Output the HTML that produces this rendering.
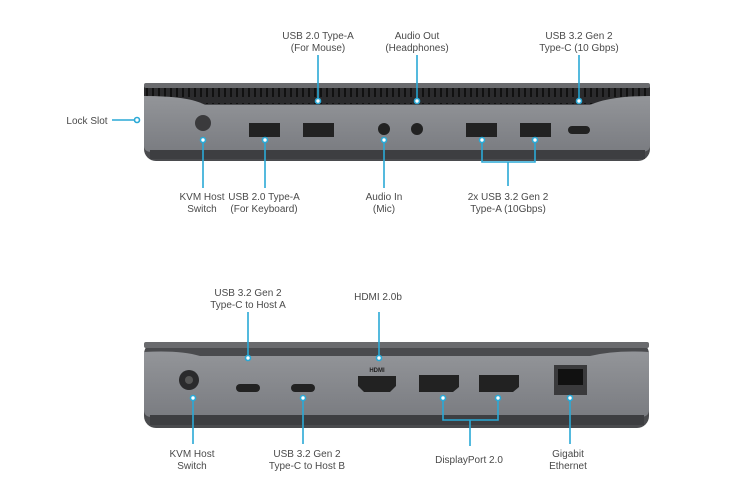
<!DOCTYPE html>
<html><head><meta charset="utf-8"><style>
html,body{margin:0;padding:0;background:#fff;}
svg{display:block;}
text{font-family:"Liberation Sans",sans-serif;font-size:10px;fill:#4a4a4a;text-anchor:middle;}
.c{stroke:#2aa9d6;stroke-width:1.6;fill:none;}
.d{fill:#fff;stroke:#2aa9d6;stroke-width:1.6;}
</style></head><body>
<svg width="750" height="500" viewBox="0 0 750 500">
<defs>
<pattern id="g" width="6" height="20" patternUnits="userSpaceOnUse"><rect width="6" height="20" fill="#2b2b2d"/><rect x="2" y="3" width="2" height="14" fill="#111"/></pattern>
<linearGradient id="f" x1="0" y1="0" x2="0" y2="1"><stop offset="0" stop-color="#939599"/><stop offset="1" stop-color="#7a7c81"/></linearGradient>
</defs>
<!-- TOP DEVICE -->
<rect x="144" y="83" width="506" height="78" rx="12" fill="#4a4b4e"/>
<rect x="144" y="86" width="506" height="18" fill="url(#g)"/>
<rect x="144" y="83" width="506" height="5" rx="2" fill="#6a6b6e"/>
<path d="M144 96 Q190 96 205 105 L590 105 Q610 96 650 96 L650 146 Q650 152 640 152 L152 152 Q144 152 144 146 Z" fill="url(#f)"/>
<rect x="150" y="150" width="495" height="9" fill="#3d3e41"/>
<circle cx="203" cy="123" r="8" fill="#3a3a3c"/>
<rect x="249" y="123" width="31" height="14" fill="#222"/>
<rect x="303" y="123" width="31" height="14" fill="#222"/>
<circle cx="384" cy="129" r="6" fill="#222"/>
<circle cx="417" cy="129" r="6" fill="#222"/>
<rect x="466" y="123" width="31" height="14" fill="#222"/>
<rect x="520" y="123" width="31" height="14" fill="#222"/>
<rect x="568" y="126" width="22" height="8" rx="4" fill="#222"/>
<!-- top callouts -->
<text x="318" y="39">USB 2.0 Type-A</text><text x="318" y="51">(For Mouse)</text>
<line class="c" x1="318" y1="55" x2="318" y2="99"/><circle class="d" cx="318" cy="101" r="2.5"/>
<text x="417" y="39">Audio Out</text><text x="417" y="51">(Headphones)</text>
<line class="c" x1="417" y1="55" x2="417" y2="99"/><circle class="d" cx="417" cy="101" r="2.5"/>
<text x="579" y="39">USB 3.2 Gen 2</text><text x="579" y="51">Type-C (10 Gbps)</text>
<line class="c" x1="579" y1="55" x2="579" y2="99"/><circle class="d" cx="579" cy="101" r="2.5"/>
<text x="87" y="124">Lock Slot</text>
<line class="c" x1="112" y1="120" x2="134" y2="120"/><circle class="d" cx="137" cy="120" r="2.5"/>
<circle class="d" cx="203" cy="140" r="2.5"/><line class="c" x1="203" y1="143" x2="203" y2="188"/>
<text x="202" y="200">KVM Host</text><text x="202" y="212">Switch</text>
<circle class="d" cx="265" cy="140" r="2.5"/><line class="c" x1="265" y1="143" x2="265" y2="188"/>
<text x="264" y="200">USB 2.0 Type-A</text><text x="264" y="212">(For Keyboard)</text>
<circle class="d" cx="384" cy="140" r="2.5"/><line class="c" x1="384" y1="143" x2="384" y2="188"/>
<text x="384" y="200">Audio In</text><text x="384" y="212">(Mic)</text>
<circle class="d" cx="482" cy="140" r="2.5"/><circle class="d" cx="535" cy="140" r="2.5"/>
<path class="c" d="M482 143 V162 H535 V143 M508 162 V186"/>
<text x="508" y="200">2x USB 3.2 Gen 2</text><text x="508" y="212">Type-A (10Gbps)</text>
<!-- BOTTOM DEVICE -->
<rect x="144" y="342" width="505" height="86" rx="12" fill="#4a4b4e"/>
<rect x="144" y="342" width="505" height="6" rx="2" fill="#6a6b6e"/>
<path d="M144 352 Q180 350 200 356 L590 356 Q615 350 649 352 L649 410 Q649 417 640 417 L152 417 Q144 417 144 410 Z" fill="url(#f)"/>
<rect x="150" y="415" width="494" height="10" fill="#3d3e41"/>
<circle cx="189" cy="380" r="10" fill="#2a2a2c"/><circle cx="189" cy="380" r="4" fill="#555"/>
<rect x="236" y="384" width="24" height="8" rx="4" fill="#222"/>
<rect x="291" y="384" width="24" height="8" rx="4" fill="#222"/>
<path d="M358 376 H396 V386 L390 392 H364 L358 386 Z" fill="#222"/>
<path d="M419 375 H459 V387 L453 392 H419 Z" fill="#222"/>
<path d="M479 375 H519 V387 L513 392 H479 Z" fill="#222"/>
<rect x="554" y="365" width="33" height="30" fill="#3a3a3c"/><rect x="558" y="369" width="25" height="16" fill="#111"/>
<text x="377" y="372" style="font-size:6px;fill:#222;font-weight:bold">HDMI</text>
<!-- bottom callouts -->
<text x="248" y="296">USB 3.2 Gen 2</text><text x="248" y="308">Type-C to Host A</text>
<line class="c" x1="248" y1="312" x2="248" y2="355"/><circle class="d" cx="248" cy="358" r="2.5"/>
<text x="378" y="300">HDMI 2.0b</text>
<line class="c" x1="379" y1="312" x2="379" y2="355"/><circle class="d" cx="379" cy="358" r="2.5"/>
<circle class="d" cx="193" cy="398" r="2.5"/><line class="c" x1="193" y1="401" x2="193" y2="444"/>
<text x="192" y="457">KVM Host</text><text x="192" y="469">Switch</text>
<circle class="d" cx="303" cy="398" r="2.5"/><line class="c" x1="303" y1="401" x2="303" y2="444"/>
<text x="307" y="457">USB 3.2 Gen 2</text><text x="307" y="469">Type-C to Host B</text>
<circle class="d" cx="443" cy="398" r="2.5"/><circle class="d" cx="498" cy="398" r="2.5"/>
<path class="c" d="M443 401 V420 H498 V401 M470 420 V446"/>
<text x="469" y="463">DisplayPort 2.0</text>
<circle class="d" cx="570" cy="398" r="2.5"/><line class="c" x1="570" y1="401" x2="570" y2="444"/>
<text x="568" y="457">Gigabit</text><text x="568" y="469">Ethernet</text>
</svg>
</body></html>
